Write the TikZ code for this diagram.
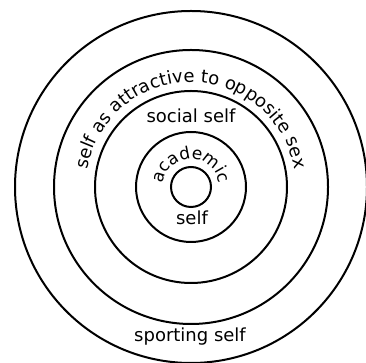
\documentclass[tikz,border=0pt]{standalone}
\usepackage{fontspec}
\newfontfamily\labfont{DejaVu Sans}
\usetikzlibrary{decorations.text}
\newcommand{\labsize}{\labfont\fontsize{18}{21}\selectfont}
\newcommand{\acsize}{\labfont\fontsize{17}{20}\selectfont}
\begin{document}
\begin{tikzpicture}[x=1pt,y=1pt,
  ring/.style={draw=black, line width=2pt, circle, inner sep=0pt, outer sep=0pt},
  lab/.style={font=\labsize, inner sep=0pt, anchor=base},
  arclab/.style={decorate, decoration={text along path, text align=center}}]
\useasboundingbox (0,0) rectangle (366,363);
\coordinate (c) at (191,176);
\node[ring, minimum size=40]  (core)     at (c) {};
\node[ring, minimum size=110] (academicring) at (c) {};
\node[ring, minimum size=192] (socialring)   at (c) {};
\node[ring, minimum size=274] (attractring)  at (c) {};
\node[ring, minimum size=352] (sportring)    at (c) {};
\path[arclab, decoration={text={|\labsize|self as attractive to opposite sex}}]
  (c) ++(178:105) arc[start angle=178, end angle=2, radius=105];
\path[arclab, decoration={text={|\acsize|academic}}]
  (c) ++(178:28) arc[start angle=178, end angle=2, radius=28];
\node[lab] (social) at (191,240) {social self};
\node[lab] (selfl) at (192,138) {self};
\node[lab] (sporting) at (190,21) {sporting self};
\end{tikzpicture}
\end{document}
